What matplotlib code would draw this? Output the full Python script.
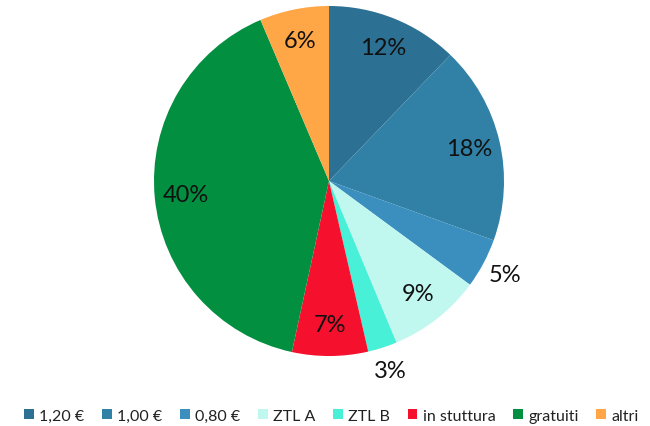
import matplotlib
matplotlib.use("Agg")
import matplotlib.pyplot as plt
import numpy as np
from matplotlib.patches import Patch

categories = ["1,20 €", "1,00 €", "0,80 €", "ZTL A", "ZTL B", "in stuttura", "gratuiti", "altri"]
values = [12.2, 18.3, 4.6, 8.6, 2.7, 7.0, 40.2, 6.4]
labels = ["12%", "18%", "5%", "9%", "3%", "7%", "40%", "6%"]
colors = ["#2C7093", "#3180A6", "#3A8FBE", "#C0F7EF", "#48F0D8", "#F5102E", "#038F40", "#FFA646"]
outside = [False, False, True, False, True, False, False, False]

plt.rcParams['font.family'] = ['Lato', 'DejaVu Sans']

fig = plt.figure(figsize=(6.5, 4.27), dpi=100)
ax = fig.add_axes([0.2369, 0.1639, 0.5385, 0.8197])
wedges, _ = ax.pie(values, colors=colors, startangle=90, counterclock=False,
                   radius=1.0, wedgeprops=dict(linewidth=0))
ax.set_xlim(-1, 1)
ax.set_ylim(-1, 1)
ax.set_aspect('equal')

for w, lab, out in zip(wedges, labels, outside):
    ang = np.deg2rad((w.theta1 + w.theta2) / 2)
    r = 1.14 if out else 0.82
    ax.text(r * np.cos(ang), r * np.sin(ang), lab, ha='center', va='center',
            fontsize=17, color='#111111')

handles = [Patch(facecolor=c, edgecolor='none') for c in colors]
fig.legend(handles, categories, loc='center', bbox_to_anchor=(0.51, 0.024),
           ncol=8, frameon=False, fontsize=11.5, handlelength=0.6, handleheight=0.6,
           handletextpad=0.35, columnspacing=1.1, labelcolor='#222222')

fig.savefig("out.png", dpi=100)
